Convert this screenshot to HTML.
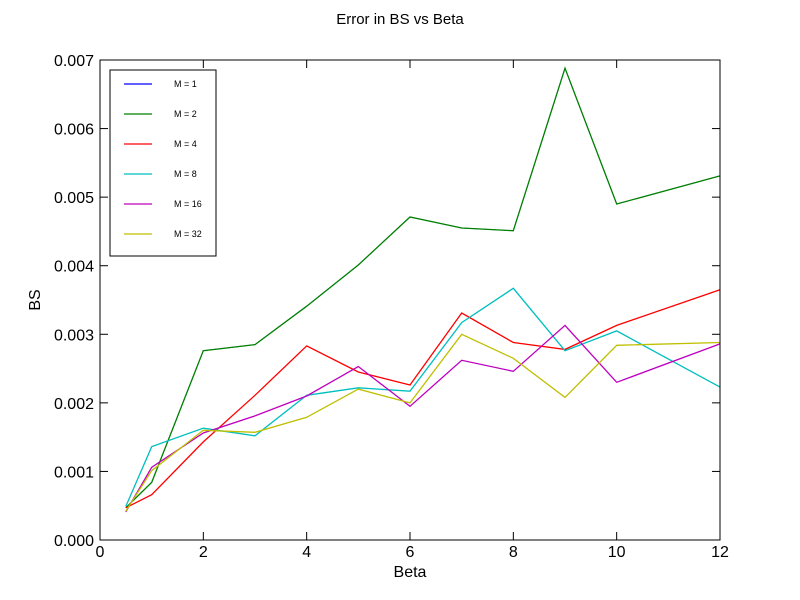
<!DOCTYPE html>
<html><head><meta charset="utf-8"><style>
body{margin:0;background:#fff;}
svg{display:block;font-family:"Liberation Sans",sans-serif;}
</style></head><body>
<svg id="chart" width="800" height="600">
<rect width="800" height="600" fill="#fff"/>
<text x="400" y="24" font-size="15" text-anchor="middle">Error in BS vs Beta</text>
<text x="410" y="577" font-size="16" text-anchor="middle">Beta</text>
<text x="40" y="300" font-size="16" text-anchor="middle" transform="rotate(-90 40 300)">BS</text>
<g id="ticks"></g>
<g id="series"></g>
<rect x="100" y="60" width="620" height="480" fill="none" stroke="#000" stroke-width="1"/>
<g id="legend"></g>
</svg>
<script>
const betas=[0.5,1,2,3,4,5,6,7,8,9,10,12];
const m1=[0.00047,0.00084,0.00276,0.00285,0.00341,0.00401,0.00471,0.00455,0.00451,0.00688,0.00490,0.00531];
const m2=[0.00047,0.00084,0.00276,0.00285,0.00341,0.00401,0.00471,0.00455,0.00451,0.00688,0.00490,0.00531];
const m4=[0.00047,0.00066,0.00143,0.00211,0.00283,0.00245,0.00226,0.00331,0.00288,0.00278,0.00313,0.00365];
const m8=[0.00049,0.00136,0.00163,0.00152,0.00211,0.00222,0.00217,0.00317,0.00367,0.00276,0.00305,0.00223];
const m16=[0.00041,0.00106,0.00156,0.00181,0.00210,0.00253,0.00195,0.00262,0.00246,0.00313,0.00230,0.00286];
const m32=[0.00042,0.00101,0.00160,0.00157,0.00179,0.00220,0.00200,0.00300,0.00265,0.00208,0.00284,0.00288];
const seriesLabels=["M = 1","M = 2","M = 4","M = 8","M = 16","M = 32"];
const xTicks=[0,2,4,6,8,10,12];
const yTicks=[0,0.001,0.002,0.003,0.004,0.005,0.006,0.007];
const yTickLabels=["0.000","0.001","0.002","0.003","0.004","0.005","0.006","0.007"];

const NS="http://www.w3.org/2000/svg";
const X=v=>100+v/12*620;
const Y=v=>540-v/0.007*480;
function mk(tag,attrs,parent){const e=document.createElementNS(NS,tag);for(const k in attrs)e.setAttribute(k,attrs[k]);parent.appendChild(e);return e;}
const tg=document.getElementById('ticks');
xTicks.forEach(t=>{
  const x=X(t);
  const a=mk('line',{x1:x,x2:x,y1:540,y2:532,stroke:'#000'},tg);
  
  
  const b=mk('line',{x1:x,x2:x,y1:60,y2:68,stroke:'#000'},tg);
  
  
  const l=mk('text',{x:x,y:557,'font-size':16,'text-anchor':'middle'},tg);
  l.textContent=t;
  
  
});
yTicks.forEach((t,i)=>{
  const y=Y(t);
  const a=mk('line',{x1:100,x2:108,y1:y,y2:y,stroke:'#000'},tg);
  
  
  const b=mk('line',{x1:712,x2:720,y1:y,y2:y,stroke:'#000'},tg);
  
  
  const l=mk('text',{x:94,y:y+6,'font-size':16,'text-anchor':'end'},tg);
  l.textContent=yTickLabels[i];
  
  
});
const all=[m1,m2,m4,m8,m16,m32];
const colors=["#0000ff","#008000","#ff0000","#00bfbf","#bf00bf","#bfbf00"];
const widths=[0.8,1.3,1.3,1.3,1.3,1.3];
const sg=document.getElementById('series');
all.forEach((s,i)=>{
  const pts=s.map((v,j)=>X(betas[j]).toFixed(1)+','+Y(v).toFixed(1)).join(' ');
  const p=mk('polyline',{points:pts,fill:'none',stroke:colors[i],'stroke-width':widths[i]},sg);
  
  
});
const lg=document.getElementById('legend');
const box=mk('rect',{x:110,y:70,width:106,height:186,fill:'#fff',stroke:'#000'},lg);


seriesLabels.forEach((s,i)=>{
  const y=84+i*30;
  const l=mk('line',{x1:124,x2:152,y1:y,y2:y,stroke:colors[i],'stroke-width':1.3},lg);
  
  
  const t=mk('text',{x:174,y:y+3,'font-size':9},lg);
  t.textContent=s;
  
  
});
</script>
</body></html>
